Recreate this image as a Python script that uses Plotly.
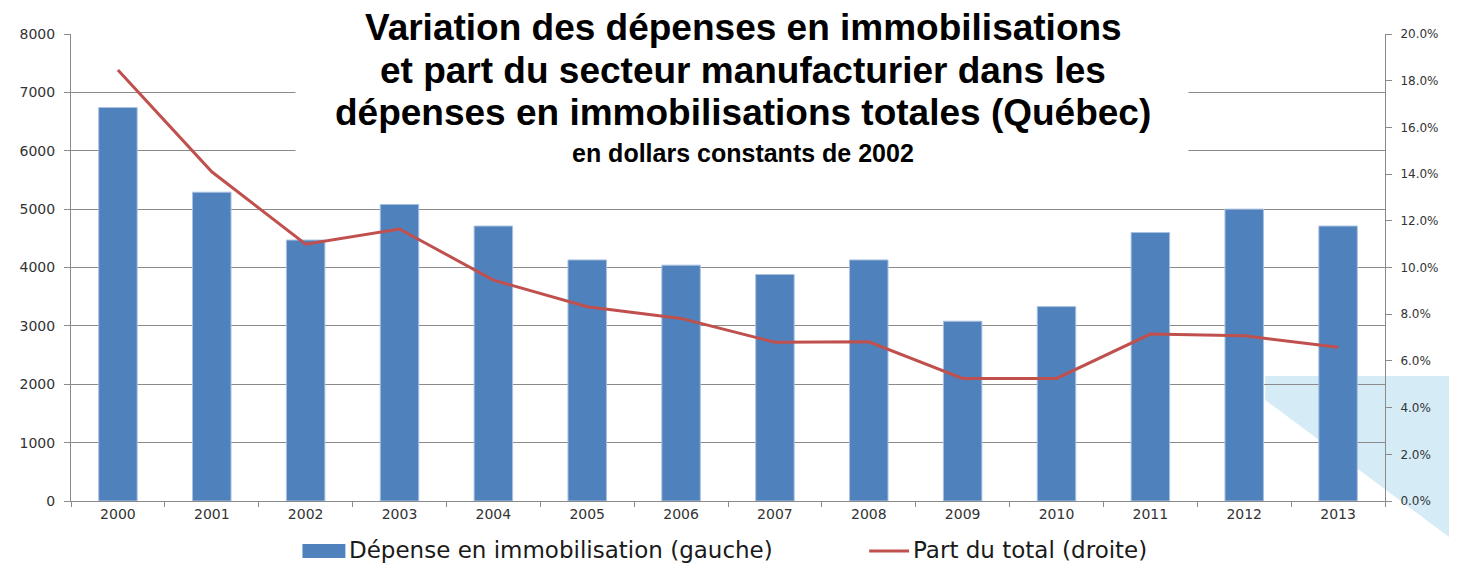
import plotly.graph_objects as go

years = ["2000", "2001", "2002", "2003", "2004", "2005", "2006",
         "2007", "2008", "2009", "2010", "2011", "2012", "2013"]
depenses = [6740, 5290, 4470, 5080, 4710, 4130, 4040,
            3880, 4130, 3080, 3330, 4600, 5000, 4710]
part_total = [0.1846, 0.1410, 0.1100, 0.1165, 0.0946, 0.0832, 0.0782,
              0.0680, 0.0682, 0.0525, 0.0525, 0.0715, 0.0708, 0.0658]

title_lines = ["Variation des dépenses en immobilisations",
               "et part du secteur manufacturier dans les",
               "dépenses en immobilisations totales (Québec)"]
subtitle = "en dollars constants de 2002"
legend_bar = "Dépense en immobilisation (gauche)"
legend_line = "Part du total (droite)"

# page is offset by the browser's default 8px body margin
OFF = 8
W, H = 1457 - OFF, 563 - OFF
# plot area in page pixels: x 68..1385, y 34..501
L = 68 - OFF
R = W - (1385 - OFF)
T = 34 - OFF
B = H - (501 - OFF)
PW, PH = W - L - R, H - T - B

def px(x):
    """page pixel x -> paper coordinate"""
    return (x - OFF - L) / PW

def py(y):
    """page pixel y -> paper coordinate"""
    return (H - B - (y - OFF)) / PH

BAR_COLOR = "#4F81BD"
LINE_COLOR = "#C0504D"
GRID = "#8a8a8a"
TICKFONT = dict(family="DejaVu Sans", size=14, color="#333333")

fig = go.Figure()
fig.add_trace(go.Bar(
    x=years, y=depenses, name=legend_bar,
    marker=dict(color=BAR_COLOR, line=dict(color="#a9c1df", width=1)),
    yaxis="y", showlegend=False,
))
fig.add_trace(go.Scatter(
    x=years, y=part_total, name=legend_line, mode="lines",
    line=dict(color=LINE_COLOR, width=3),
    yaxis="y2", showlegend=False,
))

shapes = [
    # light blue decorative background polygon
    dict(type="path", xref="paper", yref="paper", layer="below",
         path=f"M{px(1265)},{py(376)} L{px(1460)},{py(376)} L{px(1460)},{py(545)} L{px(1265)},{py(400)} Z",
         fillcolor="#d5ecf7", line=dict(width=0)),
    # white box behind title
    dict(type="rect", xref="paper", yref="paper", layer="above",
         x0=px(293), x1=px(1188), y0=py(182), y1=py(OFF),
         fillcolor="white", line=dict(width=0)),
    # legend keys
    dict(type="rect", xref="paper", yref="paper",
         x0=px(300), x1=px(343), y0=py(558), y1=py(544),
         fillcolor=BAR_COLOR, line=dict(width=0)),
    dict(type="line", xref="paper", yref="paper",
         x0=px(868), x1=px(908), y0=py(551), y1=py(551),
         line=dict(color=LINE_COLOR, width=3)),
]

annotations = []
title_centers = [28, 70, 112]
for txt, yc in zip(title_lines, title_centers):
    annotations.append(dict(
        text=f"<b>{txt}</b>", xref="paper", yref="paper",
        x=px(742), y=py(yc), xanchor="center", yanchor="middle",
        showarrow=False,
        font=dict(family="Liberation Sans", size=37, color="black")))
annotations.append(dict(
    text=f"<b>{subtitle}</b>", xref="paper", yref="paper",
    x=px(742), y=py(153), xanchor="center", yanchor="middle",
    showarrow=False,
    font=dict(family="Liberation Sans", size=25, color="black")))
annotations.append(dict(
    text=legend_bar, xref="paper", yref="paper",
    x=px(345), y=py(550), xanchor="left", yanchor="middle",
    showarrow=False,
    font=dict(family="DejaVu Sans", size=23, color="#1a1a1a")))
annotations.append(dict(
    text=legend_line, xref="paper", yref="paper",
    x=px(910), y=py(550), xanchor="left", yanchor="middle",
    showarrow=False,
    font=dict(family="DejaVu Sans", size=23, color="#1a1a1a")))

fig.update_layout(
    width=W, height=H,
    margin=dict(l=L, r=R, t=T, b=B, pad=0),
    paper_bgcolor="white",
    plot_bgcolor="rgba(0,0,0,0)",
    bargap=0.59,
    shapes=shapes,
    annotations=annotations,
    showlegend=False,
    xaxis=dict(
        type="category", range=[-0.5, 13.5],
        showline=True, linecolor=GRID, linewidth=1,
        ticks="outside", ticklen=5, tickcolor=GRID, tickson="boundaries",
        showgrid=False, tickfont=TICKFONT,
    ),
    yaxis=dict(
        range=[0, 8000], dtick=1000, tickformat="d",
        showline=True, linecolor=GRID, linewidth=1,
        ticks="outside", ticklen=6, tickcolor=GRID,
        showgrid=True, gridcolor=GRID, gridwidth=1,
        zeroline=False, tickfont=TICKFONT, ticklabelstandoff=6,
    ),
    yaxis2=dict(
        range=[0, 0.2], dtick=0.02, tickformat=".1%",
        overlaying="y", side="right",
        showline=True, linecolor=GRID, linewidth=1,
        ticks="outside", ticklen=6, tickcolor=GRID,
        showgrid=False, zeroline=False,
        tickfont=dict(family="DejaVu Sans", size=12, color="#333333"),
        ticklabelstandoff=6,
    ),
)

fig.write_html("out.html")
